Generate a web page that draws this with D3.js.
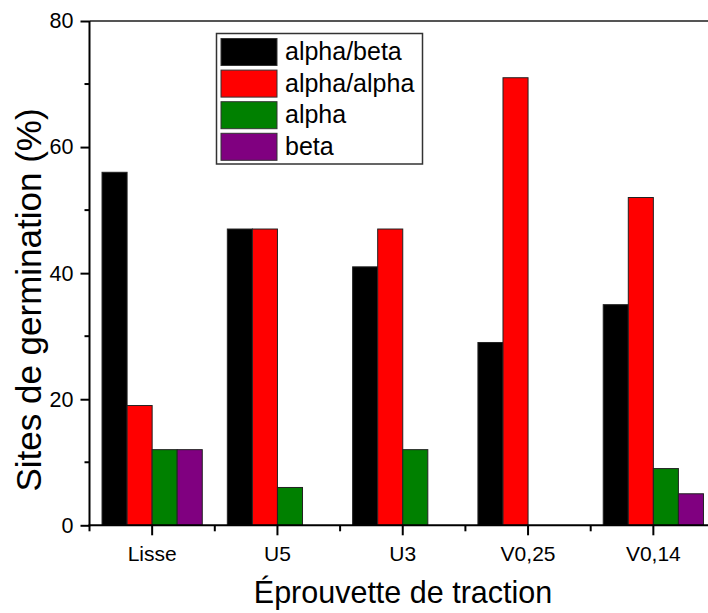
<!DOCTYPE html>
<html><head><meta charset="utf-8">
<script src="https://cdn.jsdelivr.net/npm/d3@7"></script>
<style>body{margin:0;background:#fff}svg{display:block;font-family:"Liberation Sans",Arial,sans-serif}</style>
</head><body><svg id="c" width="708" height="613"></svg>
<script>
const categories = ["Lisse","U5","U3","V0,25","V0,14"];
const seriesNames = ["alpha/beta","alpha/alpha","alpha","beta"];
const seriesColors = ["#000000","#ff0000","#008000","#800080"];
const alphaBeta  = [56,47,41,29,35];
const alphaAlpha = [19,47,47,71,52];
const alphaOnly  = [12,6,12,0,9];
const betaOnly   = [12,0,0,0,5];
const yTicks = [0,20,40,60,80];
const yMinor = [10,30,50,70];

const series = [alphaBeta, alphaAlpha, alphaOnly, betaOnly];
const svg = d3.select("#c");
const L = 89.5, B = 525.3, T = 21, R = L + 5*125.3;

const x = d3.scaleBand().domain(categories).range([L, R]).paddingInner(0).paddingOuter(0);
const xs = d3.scaleBand().domain(d3.range(4)).range([0, x.bandwidth()*0.8]);
const y = d3.scaleLinear().domain([0,80]).range([B, T]);

// top frame line
svg.append("line").attr("x1",L).attr("x2",708).attr("y1",T).attr("y2",T)
  .attr("stroke","#555").attr("stroke-width",1.8);

// bars
const g = svg.append("g");
categories.forEach((c,ci)=>{
  series.forEach((s,si)=>{
    const v = s[ci];
    if (v <= 0) return;
    g.append("rect")
      .attr("x", x(c) + x.bandwidth()*0.1 + xs(si))
      .attr("y", y(v))
      .attr("width", xs.bandwidth())
      .attr("height", B - y(v))
      .attr("fill", seriesColors[si])
      .attr("stroke","#222").attr("stroke-width",1);
  });
});

// y axis
const yAxis = svg.append("g").attr("transform",`translate(${L},0)`)
  .call(d3.axisLeft(y).tickValues(yTicks).tickSize(9).tickPadding(7).tickFormat(d3.format("d")));
yAxis.select(".domain").attr("stroke","#000").attr("stroke-width",2).attr("d",`M0,${T}V${B+1}`);
yAxis.selectAll(".tick line").attr("stroke-width",2);
yAxis.selectAll("text").attr("font-size",21.5).attr("fill","#000");
yAxis.selectAll(".minor").data(yMinor).enter().append("line")
  .attr("x1",-5).attr("x2",0).attr("y1",d=>y(d)).attr("y2",d=>y(d))
  .attr("stroke","#000").attr("stroke-width",2);

// x axis
const xAxis = svg.append("g").attr("transform",`translate(0,${B})`)
  .call(d3.axisBottom(x).tickSize(10).tickPadding(11));
xAxis.select(".domain").attr("stroke","#000").attr("stroke-width",2).attr("d",`M${L-1},0H${R}`);
xAxis.selectAll(".tick line").attr("stroke-width",2);
xAxis.selectAll("text").attr("font-size",21).attr("fill","#000");
xAxis.selectAll(".minor").data(d3.range(categories.length+1)).enter().append("line")
  .attr("x1",i=>L+i*x.step()).attr("x2",i=>L+i*x.step()).attr("y1",0).attr("y2",6)
  .attr("stroke","#000").attr("stroke-width",2);

// axis titles
svg.append("text").attr("x",403).attr("y",603).attr("text-anchor","middle")
  .attr("font-size",30.5).text("Éprouvette de traction");
svg.append("text").attr("transform","translate(40.5,300) rotate(-90)").attr("text-anchor","middle")
  .attr("font-size",35).text("Sites de germination (%)");

// legend
const lg = svg.append("g");
lg.append("rect").attr("x",216.5).attr("y",33.5).attr("width",206).attr("height",130.5)
  .attr("fill","#fff").attr("stroke","#333").attr("stroke-width",1.5);
seriesNames.forEach((n,i)=>{
  const yy = 38.5 + i*31.6;
  lg.append("rect").attr("x",221).attr("y",yy).attr("width",56).attr("height",27)
    .attr("fill",seriesColors[i]).attr("stroke","#333").attr("stroke-width",1);
  lg.append("text").attr("x",285).attr("y",yy+21.5).attr("font-size",25).text(n);
});
</script></body></html>
